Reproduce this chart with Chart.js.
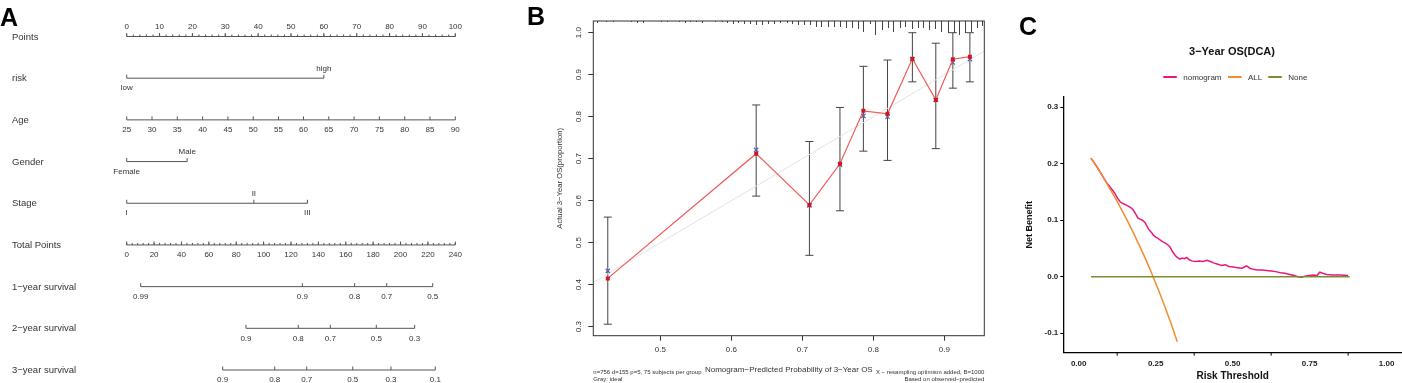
<!DOCTYPE html>
<html>
<head>
<meta charset="utf-8">
<script src="https://cdn.jsdelivr.net/npm/chart.js@4.4.0/dist/chart.umd.min.js"></script>
<style>
body { margin: 0; background: #fff; width: 1402px; height: 383px; overflow: hidden; position: relative; }
canvas { position: absolute; top: 0; }
</style>
</head>
<body>
<canvas id="panelA" width="520" height="383" style="left:0"></canvas>
<canvas id="panelB" width="470" height="383" style="left:520px"></canvas>
<canvas id="panelC" width="402" height="383" style="left:1000px"></canvas>
<script>
const FONT = '"Liberation Sans", Arial, Helvetica, sans-serif';

// ---------- A: nomogram ----------
const pointsMajor = [0, 10, 20, 30, 40, 50, 60, 70, 80, 90, 100];
const riskLevels = ['low', 'high'];
const riskPoints = [0, 60];
const ageLabels = [25, 30, 35, 40, 45, 50, 55, 60, 65, 70, 75, 80, 85, 90];
const agePoints = [0, 7.7, 15.4, 23.1, 30.8, 38.5, 46.2, 53.8, 61.5, 69.2, 76.9, 84.6, 92.3, 100];
const genderLevels = ['Female', 'Male'];
const genderPoints = [0, 18.4];
const stageLevels = ['I', 'II', 'III'];
const stagePoints = [0, 38.7, 55.0];
const totalLabels = [0, 20, 40, 60, 80, 100, 120, 140, 160, 180, 200, 220, 240];
const surv1Labels = ['0.99', '0.9', '0.8', '0.7', '0.5'];
const surv1Total = [10.2, 128.3, 166.5, 189.9, 223.5];
const surv2Labels = ['0.9', '0.8', '0.7', '0.5', '0.3'];
const surv2Total = [87.1, 125.3, 148.7, 182.3, 210.3];
const surv3Labels = ['0.9', '0.8', '0.7', '0.5', '0.3', '0.1'];
const surv3Total = [70.1, 108.1, 131.5, 165.1, 193.0, 225.4];

// ---------- B: calibration ----------
const calPred = [0.426, 0.635, 0.710, 0.753, 0.786, 0.820, 0.855, 0.888, 0.912, 0.936];
const calObserved = [0.415, 0.712, 0.590, 0.688, 0.814, 0.807, 0.938, 0.840, 0.937, 0.943];
const calCorrected = [0.433, 0.721, 0.589, 0.686, 0.802, 0.800, 0.937, 0.840, 0.929, 0.937];
const calLower = [0.306, 0.611, 0.470, 0.576, 0.718, 0.696, 0.883, 0.724, 0.868, 0.883];
const calUpper = [0.561, 0.828, 0.741, 0.822, 0.920, 0.935, 1.000, 0.975, 1.000, 1.000];
const idealLine = [0.4, 1.0];
const rugPred = [0.411, 0.424, 0.434, 0.458, 0.467, 0.475, 0.501, 0.509, 0.527, 0.535, 0.542, 0.550,
  0.559, 0.577, 0.587, 0.594, 0.602, 0.610, 0.618, 0.626, 0.635, 0.643, 0.652, 0.660, 0.669, 0.678,
  0.686, 0.694, 0.702, 0.711, 0.719, 0.727, 0.736, 0.744, 0.753, 0.762, 0.770, 0.778, 0.786, 0.795,
  0.803, 0.812, 0.820, 0.828, 0.837, 0.845, 0.854, 0.863, 0.870, 0.879, 0.887, 0.896, 0.905, 0.913,
  0.921, 0.929, 0.937, 0.946, 0.953];
const rugCount = [2, 1, 1, 1, 2, 2, 1, 1, 1, 2, 1, 1,
  2, 1, 1, 2, 3, 2, 3, 3, 4, 4, 3, 3, 2, 2,
  3, 4, 4, 4, 6, 6, 6, 6, 6, 7, 7, 8, 11, 3,
  14, 9, 7, 11, 7, 6, 8, 7, 7, 9, 8, 11, 12, 12,
  14, 12, 11, 7, 5];
const xTicksB = [0.5, 0.6, 0.7, 0.8, 0.9];
const yTicksB = [0.3, 0.4, 0.5, 0.6, 0.7, 0.8, 0.9, 1.0];

// ---------- C: decision curve ----------
const nomoThreshold = [0.040, 0.050, 0.060, 0.070, 0.080, 0.090, 0.100, 0.110, 0.118, 0.126, 0.134, 0.142,
  0.150, 0.161, 0.170, 0.177, 0.185, 0.192, 0.199, 0.207, 0.215, 0.222, 0.230, 0.237, 0.242, 0.250,
  0.258, 0.264, 0.272, 0.280, 0.288, 0.296, 0.304, 0.313, 0.320, 0.329, 0.336, 0.343, 0.351, 0.359,
  0.367, 0.380, 0.392, 0.404, 0.416, 0.428, 0.440, 0.452, 0.464, 0.476, 0.488, 0.502, 0.515, 0.530,
  0.545, 0.556, 0.567, 0.580, 0.595, 0.610, 0.625, 0.640, 0.655, 0.670, 0.685, 0.700, 0.712, 0.724,
  0.735, 0.748, 0.762, 0.774, 0.783, 0.792, 0.805, 0.825, 0.850, 0.875];
const nomoBenefit = [0.210, 0.202, 0.194, 0.185, 0.176, 0.167, 0.160, 0.153, 0.147, 0.139, 0.133, 0.130,
  0.128, 0.125, 0.122, 0.118, 0.111, 0.104, 0.102, 0.100, 0.096, 0.089, 0.082, 0.078, 0.074, 0.070,
  0.068, 0.065, 0.062, 0.060, 0.057, 0.053, 0.045, 0.038, 0.034, 0.031, 0.033, 0.032, 0.034, 0.030,
  0.028, 0.027, 0.028, 0.027, 0.029, 0.027, 0.024, 0.022, 0.020, 0.021, 0.018, 0.017, 0.016, 0.015,
  0.019, 0.015, 0.013, 0.012, 0.012, 0.011, 0.010, 0.009, 0.007, 0.006, 0.004, 0.002, 0.000, -0.001,
  0.001, 0.002, 0.003, 0.002, 0.008, 0.006, 0.004, 0.003, 0.003, 0.002];
const allThreshold = [0.04, 0.06, 0.08, 0.10, 0.12, 0.14, 0.16, 0.18, 0.20, 0.22, 0.24, 0.26, 0.28, 0.30, 0.32];
const allBenefit = [0.210, 0.193, 0.176, 0.157, 0.138, 0.118, 0.097, 0.075, 0.052, 0.028, 0.002, -0.025, -0.053, -0.083, -0.115];
const noneThreshold = [0.04, 0.88];
const noneBenefit = [0, 0];
const xTicksC = [0, 0.25, 0.5, 0.75, 1.0];
const yTicksC = [-0.1, 0, 0.1, 0.2, 0.3];

function xy(xs, ys) {
  return xs.map((x, i) => ({ x: x, y: ys[i] }));
}

function line(ctx, x1, y1, x2, y2) {
  ctx.beginPath();
  ctx.moveTo(x1, y1);
  ctx.lineTo(x2, y2);
  ctx.stroke();
}

const baseOptions = {
  responsive: false,
  animation: false,
  devicePixelRatio: 1,
  events: [],
  plugins: { legend: { display: false }, tooltip: { enabled: false }, title: { display: false } }
};

/*******************************************************************************/
// A - nomogram

const rows = [
  { name: 'Points', axis: 'x', at: pointsMajor, text: pointsMajor.map(String), minor: 2, above: true },
  { name: 'risk', axis: 'x', at: riskPoints, text: riskLevels, alternate: true },
  { name: 'Age', axis: 'x', at: agePoints, text: ageLabels.map(String) },
  { name: 'Gender', axis: 'x', at: genderPoints, text: genderLevels, alternate: true },
  { name: 'Stage', axis: 'x', at: stagePoints, text: stageLevels, alternate: true },
  { name: 'Total Points', axis: 'xt', at: totalLabels, text: totalLabels.map(String), minor: 4 },
  { name: '1−year survival', axis: 'xt', at: surv1Total, text: surv1Labels },
  { name: '2−year survival', axis: 'xt', at: surv2Total, text: surv2Labels },
  { name: '3−year survival', axis: 'xt', at: surv3Total, text: surv3Labels }
];

const nomogramAxes = {
  id: 'nomogramAxes',
  afterDatasetsDraw(chart) {
    const ctx = chart.ctx;
    const ys = chart.scales.y;
    ctx.save();
    ctx.strokeStyle = '#555';
    ctx.lineWidth = 1;
    ctx.fillStyle = '#333';
    rows.forEach((r, i) => {
      const sx = chart.scales[r.axis];
      const y = ys.getPixelForValue(i);
      if (r.minor) {
        for (let v = 0; v <= sx.max + 1e-9; v += r.minor) {
          const x = sx.getPixelForValue(v);
          line(ctx, x, y, x, y - 2);
        }
      }
      ctx.font = '8px ' + FONT;
      ctx.textAlign = 'center';
      ctx.textBaseline = 'middle';
      r.at.forEach((v, k) => {
        const x = sx.getPixelForValue(v);
        line(ctx, x, y, x, y - 3.5);
        let up = r.above || (r.alternate && k % 2 === 1);
        ctx.fillText(r.text[k], x, up ? y - 9.5 : y + 10);
      });
      ctx.font = '9.5px ' + FONT;
      ctx.textAlign = 'left';
      ctx.fillText(r.name, 12, y + 0.5);
    });
    ctx.font = 'bold 25px ' + FONT;
    ctx.fillStyle = '#000';
    ctx.textBaseline = 'alphabetic';
    ctx.fillText('A', 0, 26);
    ctx.restore();
  }
};

new Chart(document.getElementById('panelA'), {
  type: 'line',
  data: {
    datasets: rows.map((r, i) => ({
      data: [{ x: Math.min(...r.at), y: i }, { x: Math.max(...r.at), y: i }],
      xAxisID: r.axis,
      yAxisID: 'y',
      borderColor: '#555',
      borderWidth: 1,
      pointRadius: 0,
      clip: false
    }))
  },
  options: Object.assign({}, baseOptions, {
    layout: { padding: { left: 126.7, right: 64.7, top: 36.5, bottom: 13 } },
    scales: {
      x: { type: 'linear', min: 0, max: 100, display: false },
      xt: { type: 'linear', min: 0, max: 240, display: false, position: 'bottom' },
      y: { type: 'linear', min: 0, max: 8, reverse: true, display: false }
    }
  }),
  plugins: [nomogramAxes]
});

/*******************************************************************************/
// B - calibration

const calibrationExtras = {
  id: 'calibrationExtras',
  beforeDatasetsDraw(chart) {
    const ctx = chart.ctx;
    const { x: sx, y: sy } = chart.scales;
    ctx.save();
    ctx.strokeStyle = '#444';
    ctx.lineWidth = 1;
    calPred.forEach((p, i) => {
      const x = sx.getPixelForValue(p);
      const y1 = sy.getPixelForValue(calLower[i]);
      const y2 = sy.getPixelForValue(calUpper[i]);
      line(ctx, x, y1, x, y2);
      line(ctx, x - 4, y1, x + 4, y1);
      line(ctx, x - 4, y2, x + 4, y2);
    });
    ctx.restore();
  },
  afterDatasetsDraw(chart) {
    const ctx = chart.ctx;
    const area = chart.chartArea;
    const { x: sx, y: sy } = chart.scales;
    ctx.save();
    ctx.strokeStyle = '#444';
    ctx.lineWidth = 1;
    rugPred.forEach((p, i) => {
      const x = Math.round(sx.getPixelForValue(p)) + 0.5;
      line(ctx, x, area.top, x, area.top + rugCount[i]);
    });
    ctx.strokeStyle = '#333';
    ctx.strokeRect(area.left, area.top, area.right - area.left, area.bottom - area.top);

    ctx.fillStyle = '#333';
    ctx.font = '8px ' + FONT;
    ctx.textAlign = 'center';
    ctx.textBaseline = 'middle';
    yTicksB.forEach(v => {
      ctx.save();
      ctx.translate(59, sy.getPixelForValue(v));
      ctx.rotate(-Math.PI / 2);
      ctx.fillText(v.toFixed(1), 0, 0);
      ctx.restore();
    });
    ctx.save();
    ctx.font = '7.7px ' + FONT;
    ctx.translate(40, (area.top + area.bottom) / 2);
    ctx.rotate(-Math.PI / 2);
    ctx.fillText('Actual 3−Year OS(proportion)', 0, 0);
    ctx.restore();

    ctx.font = '8px ' + FONT;
    ctx.fillText('Nomogram−Predicted Probability of 3−Year OS', (area.left + area.right) / 2, 369.5);

    ctx.font = '6px ' + FONT;
    ctx.textAlign = 'left';
    ctx.fillText('n=756 d=155 p=5, 75 subjects per group', area.left, 372.5);
    ctx.fillText('Gray: ideal', area.left, 379.5);
    ctx.textAlign = 'right';
    ctx.fillText('X − resampling optimism added, B=1000', area.right, 372.5);
    ctx.fillText('Based on observed−predicted', area.right, 379.5);

    ctx.font = 'bold 25px ' + FONT;
    ctx.fillStyle = '#000';
    ctx.textAlign = 'left';
    ctx.textBaseline = 'alphabetic';
    ctx.fillText('B', 7, 25);
    ctx.restore();
  }
};

const rTicks = { drawOnChartArea: false, tickLength: 5, color: '#333', lineWidth: 1 };

new Chart(document.getElementById('panelB'), {
  type: 'scatter',
  data: {
    datasets: [
      {
        data: xy(calPred, calObserved),
        showLine: true,
        borderColor: '#f25a5a',
        borderWidth: 1.2,
        pointStyle: 'rect',
        pointRadius: 2.8,
        pointBackgroundColor: '#d4141c',
        pointBorderColor: '#d4141c',
        pointBorderWidth: 0
      },
      {
        data: xy(calPred, calCorrected),
        showLine: false,
        pointStyle: 'crossRot',
        pointRadius: 3,
        pointBorderColor: '#5a5cb8',
        pointBorderWidth: 1.2
      },
      {
        data: xy(idealLine, idealLine),
        showLine: true,
        borderColor: '#e3e3e3',
        borderWidth: 1,
        pointRadius: 0
      }
    ]
  },
  options: Object.assign({}, baseOptions, {
    layout: { padding: { left: 0, right: 5.7, top: 21, bottom: 0 } },
    scales: {
      x: {
        type: 'linear', min: 0.4056, max: 0.9563,
        afterBuildTicks: s => { s.ticks = xTicksB.map(v => ({ value: v })); },
        afterFit: s => { s.height = 47.3; },
        grid: rTicks,
        border: { display: false },
        ticks: { font: { size: 8, family: FONT }, color: '#333', padding: 4, callback: v => v.toFixed(1) }
      },
      y: {
        type: 'linear', min: 0.2786, max: 1.0279,
        afterBuildTicks: s => { s.ticks = yTicksB.map(v => ({ value: v })); },
        afterFit: s => { s.width = 73.3; },
        grid: rTicks,
        border: { display: false },
        ticks: { display: false }
      }
    }
  }),
  plugins: [calibrationExtras]
});

/*******************************************************************************/
// C - decision curve

const dcaSeries = [
  { label: 'nomogram', color: '#e8197d' },
  { label: 'ALL', color: '#f38b2f' },
  { label: 'None', color: '#7e8c36' }
];

const dcaExtras = {
  id: 'dcaExtras',
  afterDatasetsDraw(chart) {
    const ctx = chart.ctx;
    const area = chart.chartArea;
    const sx = chart.scales.x;
    ctx.save();
    ctx.strokeStyle = '#000';
    ctx.lineWidth = 1;
    for (let i = 0; i < xTicksC.length - 1; i++) {
      const x = sx.getPixelForValue((xTicksC[i] + xTicksC[i + 1]) / 2);
      line(ctx, x, area.bottom, x, area.bottom + 3);
    }
    ctx.fillStyle = '#111';
    ctx.textAlign = 'center';
    ctx.textBaseline = 'middle';
    ctx.font = 'bold 11px ' + FONT;
    ctx.fillText('3−Year OS(DCA)', 232, 52);
    ctx.font = 'bold 10px ' + FONT;
    ctx.fillText('Risk Threshold', sx.getPixelForValue(0.5), 376);
    ctx.save();
    ctx.font = 'bold 9px ' + FONT;
    ctx.translate(29.3, (area.top + area.bottom) / 2);
    ctx.rotate(-Math.PI / 2);
    ctx.fillText('Net Benefit', 0, 0);
    ctx.restore();

    const legendX = [163.3, 228, 268.3];
    ctx.font = '8px ' + FONT;
    ctx.textAlign = 'left';
    ctx.fillStyle = '#333';
    ctx.lineWidth = 2;
    dcaSeries.forEach((s, i) => {
      ctx.strokeStyle = s.color;
      line(ctx, legendX[i], 77, legendX[i] + 13.5, 77);
      ctx.fillText(s.label, legendX[i] + 20, 77.5);
    });

    ctx.font = 'bold 25px ' + FONT;
    ctx.fillStyle = '#000';
    ctx.textBaseline = 'alphabetic';
    ctx.fillText('C', 19, 35);
    ctx.restore();
  }
};

const ggTickFont = { size: 8, family: FONT, weight: 'bold' };

new Chart(document.getElementById('panelC'), {
  type: 'scatter',
  data: {
    datasets: [
      { data: xy(noneThreshold, noneBenefit), borderColor: dcaSeries[2].color },
      { data: xy(allThreshold, allBenefit), borderColor: dcaSeries[1].color },
      { data: xy(nomoThreshold, nomoBenefit), borderColor: dcaSeries[0].color }
    ].map(d => Object.assign(d, { showLine: true, borderWidth: 1.5, pointRadius: 0, tension: 0 }))
  },
  options: Object.assign({}, baseOptions, {
    layout: { padding: { left: 0, right: 0, top: 96.7, bottom: 0 } },
    scales: {
      x: {
        type: 'linear', min: -0.05, max: 1.05,
        afterBuildTicks: s => { s.ticks = xTicksC.map(v => ({ value: v })); },
        afterFit: s => { s.height = 30.3; },
        grid: { display: false, drawTicks: false, tickLength: 0 },
        border: { display: true, color: '#000', width: 1.3 },
        ticks: { font: ggTickFont, color: '#222', padding: 6, callback: v => v.toFixed(2) }
      },
      y: {
        type: 'linear', min: -0.1345, max: 0.3186,
        afterBuildTicks: s => { s.ticks = yTicksC.map(v => ({ value: v })); },
        afterFit: s => { s.width = 63.3; },
        grid: { drawOnChartArea: false, tickLength: 3, color: '#000', lineWidth: 1 },
        border: { display: true, color: '#000', width: 1.3 },
        ticks: { font: ggTickFont, color: '#222', padding: 2, callback: v => v.toFixed(1) }
      }
    }
  }),
  plugins: [dcaExtras]
});
</script>
</body>
</html>
